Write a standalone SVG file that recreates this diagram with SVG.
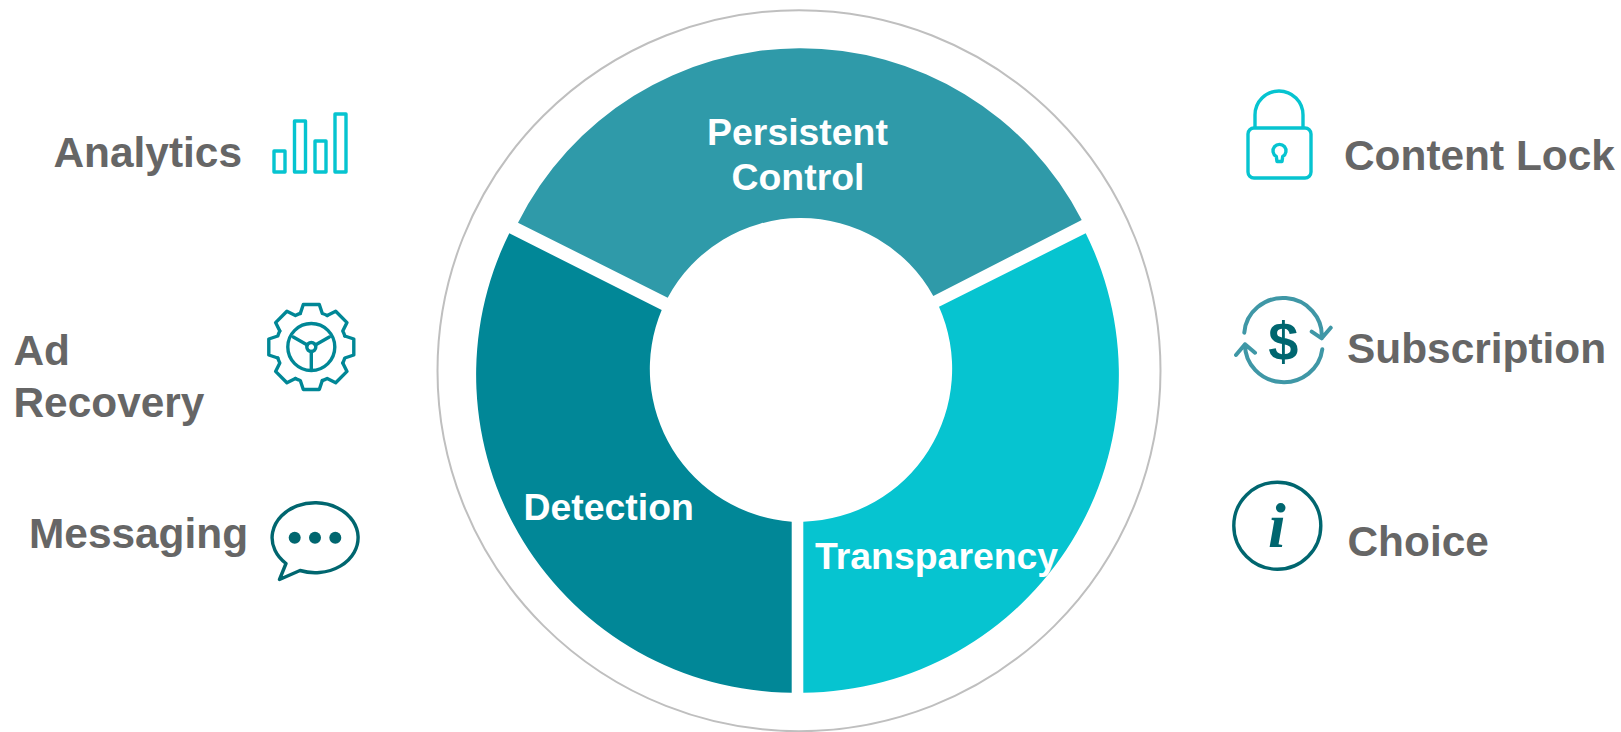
<svg xmlns="http://www.w3.org/2000/svg" width="1621" height="732" viewBox="0 0 1621 732">
<style>
text{font-family:"Liberation Sans",Arial,sans-serif;font-weight:700}
.l{font-size:42.4px;fill:#666666}
.w{font-size:37.4px;fill:#ffffff}
.i{fill:none;stroke-width:3.400;stroke-linecap:round;stroke-linejoin:round}
.c{stroke:#06c4d0}.g{stroke:#008796}.d{stroke:#00666f}.t{stroke:#3f97a6;stroke-width:4}
</style>
<defs>
<path id="tooth" d="M-11-33.500L-8-42.500H8L11-33.500A35 35 0 0 1 15.900-31.500"/>
</defs>
<rect width="1621" height="732" fill="#ffffff"/>
<g id="wheel">
<ellipse cx="799" cy="370.700" rx="361.500" ry="360.500" fill="none" stroke="#bfbfbf" stroke-width="2"/>
<path id="segment-persistent" fill="#2f9aa9" d="M518 222.700A316 316 0 0 1 1081.700 220L933.300 296A151.300 151.300 0 0 0 667.700 297.700Z"/>
<path id="segment-transparency" fill="#06c4d0" d="M1085.700 233.300A318 318 0 0 1 803.300 692.700V521.700A153 153 0 0 0 939 306.700Z"/>
<path id="segment-detection" fill="#018797" d="M509.300 233.300L661.700 310A153 153 0 0 0 791.700 521.700V692.700A318 318 0 0 1 509.300 233.300Z"/>
<text class="w" x="797.500" y="144.500" text-anchor="middle">Persistent</text>
<text class="w" x="798" y="190" text-anchor="middle">Control</text>
<text class="w" x="523.500" y="519.500">Detection</text>
<text class="w" x="815" y="568.500">Transparency</text>
</g>
<g id="analytics">
<text class="l" x="53.500" y="167">Analytics</text>
<g class="i c"><rect x="274" y="151" width="11" height="21"/><rect x="294.500" y="121" width="11" height="51"/><rect x="315" y="141" width="11" height="31"/><rect x="335" y="114" width="11" height="58"/></g>
</g>
<g id="ad-recovery">
<text class="l" x="13.500" y="365">Ad</text>
<text class="l" x="13.500" y="417">Recovery</text>
<g class="i g" transform="translate(311.300 347)">
<use href="#tooth"/><use href="#tooth" transform="rotate(45)"/><use href="#tooth" transform="rotate(90)"/><use href="#tooth" transform="rotate(135)"/><use href="#tooth" transform="rotate(180)"/><use href="#tooth" transform="rotate(225)"/><use href="#tooth" transform="rotate(270)"/><use href="#tooth" transform="rotate(315)"/>
<circle r="23.500"/><circle r="4.500"/>
<path d="M0 4.500V23M-4-2L-18-10M4-2L18-10"/>
</g>
</g>
<g id="messaging">
<text class="l" x="29" y="548">Messaging</text>
<path class="i d" d="M300 570.500A43 35 0 1 0 286 563.500L279.500 579.500Z"/>
<g fill="#00666f"><circle cx="294.700" cy="537.700" r="6"/><circle cx="315" cy="537.700" r="6"/><circle cx="335.300" cy="537.700" r="6"/></g>
</g>
<g id="content-lock">
<path class="i c" d="M1255 127V115A24 24 0 0 1 1303 115V127"/>
<rect class="i c" x="1248" y="128" width="63" height="50" rx="6"/>
<path class="i c" d="M1277 161.500H1282L1282.700 156.500A6.500 6.500 0 1 0 1276.300 156.500Z"/>
<text class="l" x="1344" y="170">Content Lock</text>
</g>
<g id="subscription">
<path class="i t" d="M1244.300 332.700A38.800 37.500 0 0 1 1321.700 338.300M1311.700 331.700L1321.700 338.300L1330.700 327.700"/>
<path class="i t" d="M1322.300 349.300A38.800 37.500 0 0 1 1245 344.300M1236 355L1245 344.300L1255 352.700"/>
<text x="1283.300" y="359.500" text-anchor="middle" font-size="54" fill="#00666f">$</text>
<text class="l" x="1347" y="363">Subscription</text>
</g>
<g id="choice">
<circle class="i d" cx="1277.300" cy="525.700" r="43.500"/>
<text x="1277" y="546.500" text-anchor="middle" font-size="64" fill="#00666f" style="font-family:'Liberation Serif',serif;font-style:italic">i</text>
<text class="l" x="1347.500" y="556">Choice</text>
</g>
</svg>
